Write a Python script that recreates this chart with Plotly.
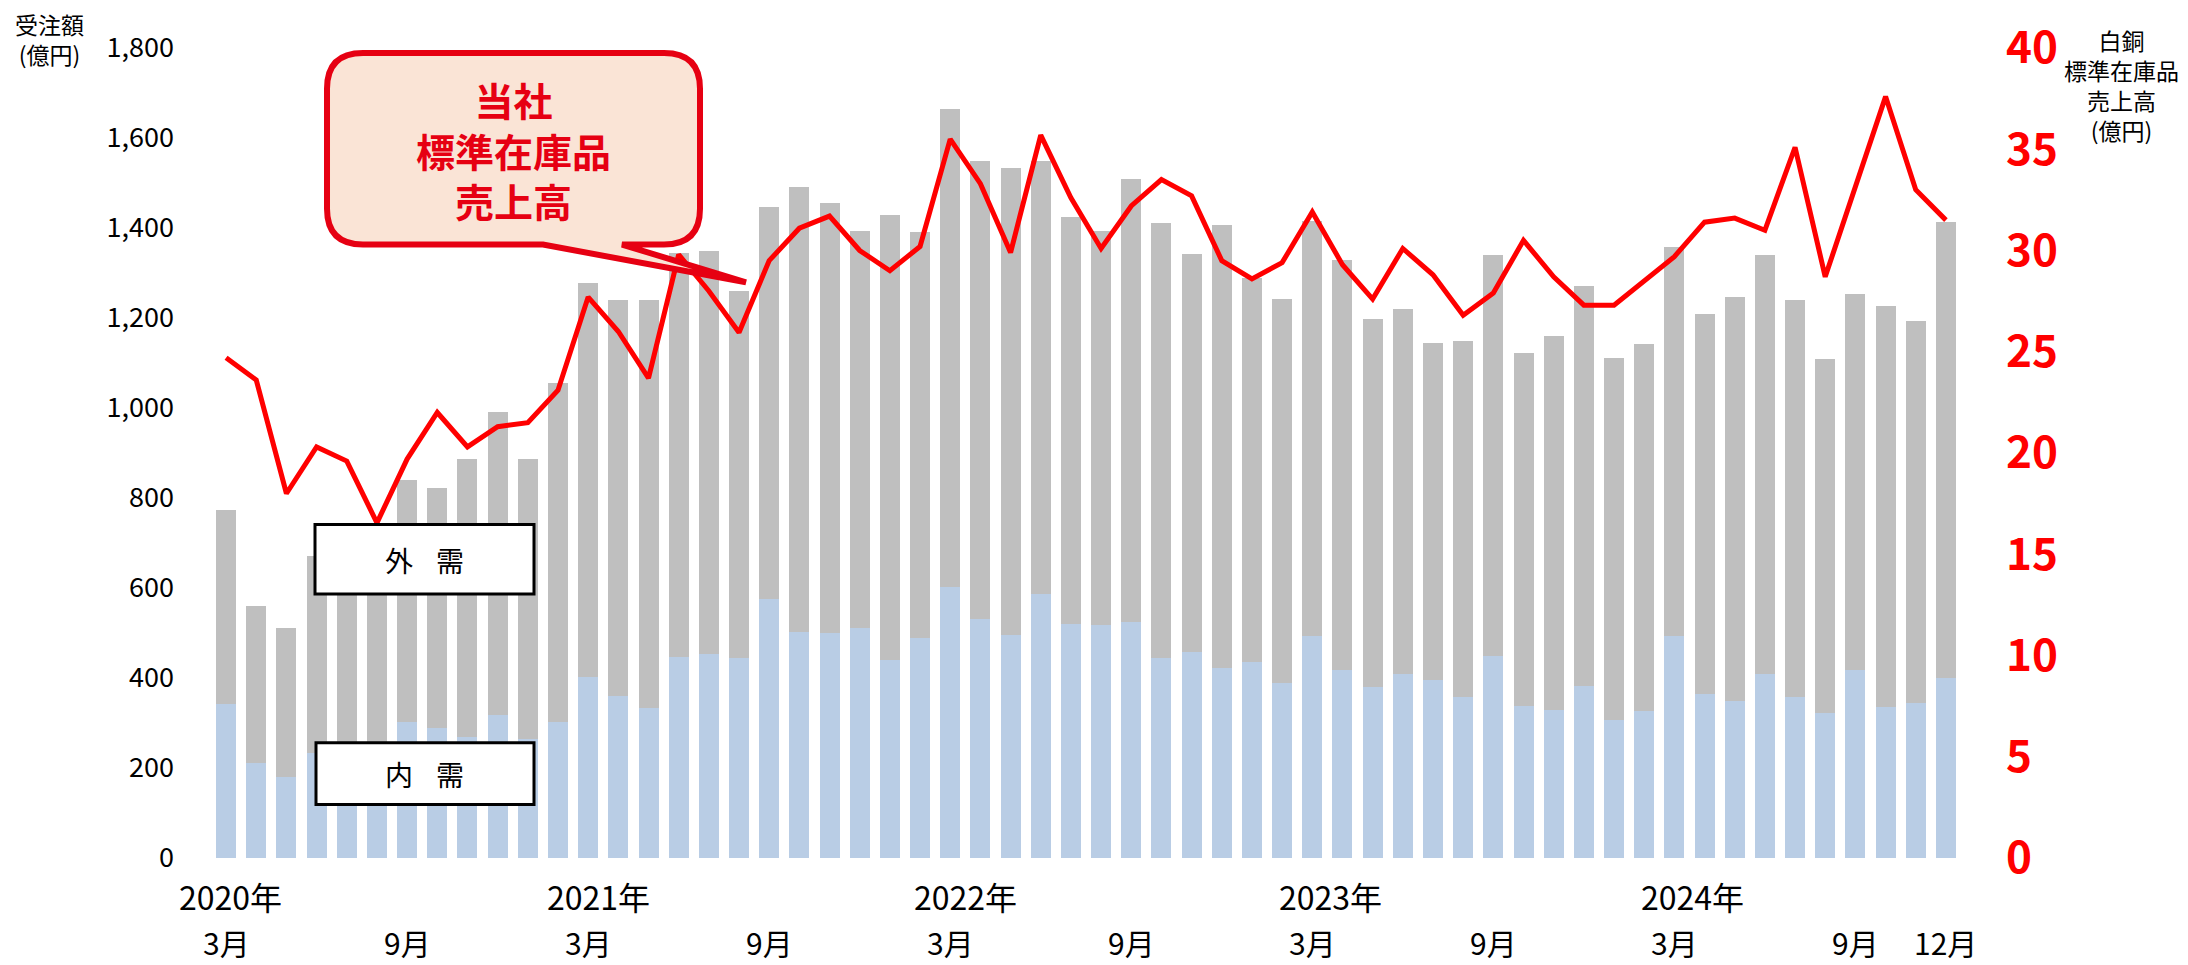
import plotly.graph_objects as go

# ---------------- data ----------------
months = [f"{y}-{m:02d}" for y in range(2020, 2025) for m in range(1, 13)
          if not (y == 2020 and m < 3)]

domestic = [342, 211, 181, 233, 200, 190, 302, 289, 270, 318, 264, 303,
            403, 361, 333, 446, 454, 445, 576, 503, 501, 512, 441, 490,
            602, 532, 495, 587, 520, 518, 525, 445, 457, 423, 435, 390,
            494, 417, 379, 409, 395, 357, 450, 337, 328, 383, 307, 326,
            494, 364, 349, 409, 357, 322, 417, 335, 344, 399]

total = [774, 560, 511, 671, 650, 620, 841, 822, 886, 991, 886, 1056,
         1278, 1240, 1241, 1345, 1349, 1259, 1447, 1492, 1455, 1393, 1430, 1391,
         1664, 1550, 1533, 1548, 1424, 1394, 1510, 1411, 1343, 1406, 1290, 1242,
         1415, 1328, 1197, 1221, 1145, 1148, 1340, 1122, 1161, 1272, 1112, 1143,
         1357, 1210, 1247, 1340, 1240, 1109, 1254, 1226, 1193, 1413]

foreign = [t - d for t, d in zip(total, domestic)]

sales = [24.7, 23.6, 18.0, 20.3, 19.6, 16.55, 19.7, 22.0, 20.3, 21.3, 21.5, 23.1,
         27.7, 26.0, 23.7, 29.8, 28.0, 25.95, 29.5, 31.1, 31.7, 30.0, 29.0, 30.2,
         35.5, 33.3, 29.9, 35.7, 32.6, 30.1, 32.2, 33.5, 32.7, 29.5, 28.6, 29.4,
         31.9, 29.3, 27.6, 30.1, 28.8, 26.8, 27.9, 30.5, 28.7, 27.3, 27.3, 28.5,
         29.7, 31.4, 31.6, 31.0, 35.1, 28.7, 33.1, 37.6, 33.0, 31.5]

year_labels = ["2020年", "2021年", "2022年", "2023年", "2024年"]
year_cats = ["2020-03", "2021-03", "2022-03", "2023-03", "2024-03"]
month_labels = ["3月", "9月", "3月", "9月", "3月", "9月", "3月", "9月", "3月", "9月", "12月"]
month_cats = ["2020-03", "2020-09", "2021-03", "2021-09", "2022-03", "2022-09",
              "2023-03", "2023-09", "2024-03", "2024-09", "2024-12"]

# ---------------- layout geometry ----------------
W, H = 2188, 965
L, R, T, B = 211, 1961, 42, 858
FONT = "Noto Sans CJK JP"


def px(x):
    return (x - L) / (R - L)


def py(y):
    return (B - y) / (B - T)


fig = go.Figure()
fig.add_trace(go.Bar(x=months, y=domestic, name="内需",
                     marker=dict(color="#B9CDE5", line=dict(width=0))))
fig.add_trace(go.Bar(x=months, y=foreign, name="外需",
                     marker=dict(color="#BFBFBF", line=dict(width=0))))
fig.add_trace(go.Scatter(x=months, y=sales, yaxis="y2", mode="lines",
                         line=dict(color="#FF0000", width=5), name="売上高"))

shapes = []
annotations = []

# callout bubble
bl, bt, br, bb, r = 327, 47, 700, 240, 36
tl, tr_, tipx, tipy = 543, 622, 746, 278
pts = [
    ("M", [(bl + r, bt)]),
    ("L", [(br - r, bt)]),
    ("Q", [(br, bt), (br, bt + r)]),
    ("L", [(br, bb - r)]),
    ("Q", [(br, bb), (br - r, bb)]),
    ("L", [(tr_, bb)]),
    ("L", [(tipx, tipy)]),
    ("L", [(tl, bb)]),
    ("L", [(bl + r, bb)]),
    ("Q", [(bl, bb), (bl, bb - r)]),
    ("L", [(bl, bt + r)]),
    ("Q", [(bl, bt), (bl + r, bt)]),
]
path = ""
for cmd, ps in pts:
    path += cmd + " " + " ".join(f"{px(a):.5f},{py(b):.5f}" for a, b in ps) + " "
path += "Z"
shapes.append(dict(type="path", xref="paper", yref="paper", path=path,
                   fillcolor="#FAE4D6", line=dict(color="#E60012", width=6),
                   layer="above"))
annotations.append(dict(text="<b>当社<br>標準在庫品<br>売上高</b>", x=px(513), y=py(144),
                        xref="paper", yref="paper", showarrow=False,
                        xanchor="center", yanchor="middle", align="center",
                        font=dict(family=FONT, size=39, color="#E60012")))

# 外需 / 内需 boxes
for (x0, y0, x1, y1), chars, cy in [((315, 522, 534, 592), ("外", "需"), 558),
                                     ((316, 742, 534, 804), ("内", "需"), 773)]:
    shapes.append(dict(type="rect", xref="paper", yref="paper",
                       x0=px(x0), x1=px(x1), y0=py(y1), y1=py(y0),
                       fillcolor="white", line=dict(color="black", width=3),
                       layer="above"))
    for ch, cx in zip(chars, (399, 450)):
        annotations.append(dict(text=ch, x=px(cx), y=py(cy), xref="paper", yref="paper",
                                showarrow=False, xanchor="center", yanchor="middle",
                                font=dict(family=FONT, size=28, color="black")))

# x labels
year_shift = [4, 10, 15, 18, 18]
for lab, cat, sh in zip(year_labels, year_cats, year_shift):
    annotations.append(dict(text=lab, x=cat, xref="x", y=py(896), yref="paper",
                            xshift=sh, showarrow=False, xanchor="center",
                            yanchor="middle",
                            font=dict(family=FONT, size=32, color="black")))
for lab, cat in zip(month_labels, month_cats):
    annotations.append(dict(text=lab, x=cat, xref="x", y=py(943), yref="paper",
                            showarrow=False, xanchor="center", yanchor="middle",
                            font=dict(family=FONT, size=30, color="black")))

# axis titles
annotations.append(dict(text="受注額<br>(億円)", x=px(49), y=py(33), xref="paper",
                        yref="paper", showarrow=False, xanchor="center",
                        yanchor="middle", align="center",
                        font=dict(family=FONT, size=23, color="black")))
annotations.append(dict(text="白銅<br>標準在庫品<br>売上高<br>(億円)", x=px(2121),
                        y=py(79), xref="paper", yref="paper", showarrow=False,
                        xanchor="center", yanchor="middle", align="center",
                        font=dict(family=FONT, size=23, color="black")))

fig.update_layout(
    width=W, height=H,
    margin=dict(l=L, r=W - R, t=T, b=H - B, pad=0),
    plot_bgcolor="white", paper_bgcolor="white",
    barmode="stack", bargap=0.337,
    showlegend=False,
    font=dict(family=FONT, color="black"),
    xaxis=dict(type="category", range=[-0.5, len(months) - 0.5],
               showticklabels=False, showgrid=False, zeroline=False,
               showline=False, ticks=""),
    yaxis=dict(range=[0, 1800], dtick=200, tickformat=",d", showgrid=False,
               zeroline=False, showline=False, ticks="",
               tickfont=dict(family=FONT, size=27, color="black"),
               ticklabelstandoff=36),
    yaxis2=dict(range=[0, 40], dtick=5, overlaying="y", side="right",
                showgrid=False, zeroline=False, showline=False, ticks="",
                tickfont=dict(family=FONT, size=44, color="#FF0000", weight="bold"),
                ticklabelstandoff=44),
    shapes=shapes,
    annotations=annotations,
)

fig.write_html(
    "out.html",
    config={"displayModeBar": False},
    post_script="document.body.style.margin='0';document.body.style.overflow='hidden';",
)
